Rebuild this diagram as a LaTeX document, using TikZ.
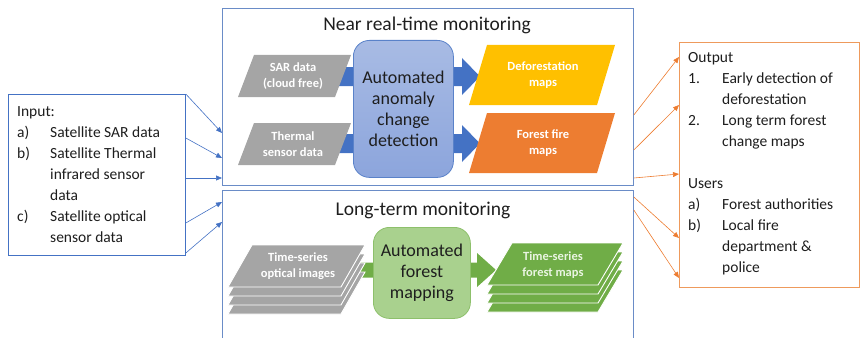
\documentclass[tikz,border=0pt]{standalone}
\usepackage{fontspec}
\setmainfont{Carlito}
\usetikzlibrary{arrows.meta,calc}
\definecolor{framebl}{HTML}{6A8CC7}
\definecolor{linebl}{HTML}{4472C4}
\definecolor{arrbl}{HTML}{4472C4}
\definecolor{boxtop}{HTML}{A8BBE4}
\definecolor{boxbot}{HTML}{8CA5DC}
\definecolor{boxbd}{HTML}{5A82C9}
\definecolor{grayp}{HTML}{A5A5A5}
\definecolor{gold}{HTML}{FFC000}
\definecolor{orng}{HTML}{ED7D31}
\definecolor{outbd}{HTML}{EE9A5C}
\definecolor{grn}{HTML}{70AD47}
\definecolor{grnl}{HTML}{A9D18E}
\definecolor{grnbd}{HTML}{8DC06B}
\definecolor{grntxt}{HTML}{EAF5E2}
\definecolor{txt}{HTML}{1E1E1E}
\begin{document}
\begin{tikzpicture}[x=1pt,y=-1pt,
  framebox/.style={draw=framebl,line width=0.8pt,anchor=north west,inner sep=0pt},
  listbox/.style={draw=#1,line width=0.8pt,anchor=north west,inner sep=0pt,fill=white},
  listtext/.style={anchor=north west,inner sep=0pt,text=txt,font=\fontsize{15.5}{21}\selectfont},
  titletext/.style={text=txt,font=\fontsize{19.5}{21}\selectfont,inner sep=0pt},
  proctext/.style={text=txt,font=\fontsize{18}{21}\selectfont,align=center,inner sep=0pt},
  paratext/.style={text=white,font=\fontsize{12.5}{16}\selectfont\bfseries,align=center,inner sep=0pt},
  bluecon/.style={draw=linebl,line width=0.6pt,-{Triangle[length=6pt,width=5pt]}},
  orcon/.style={draw=orng,line width=0.6pt,-{Triangle[length=6pt,width=5pt]}},
  layer/.style={draw=white,line width=0.9pt}
]
\useasboundingbox (0,0) rectangle (861,337);

% frames
\node[framebox,minimum width=411pt,minimum height=177pt] (nrt) at (222,8) {};
\node[framebox,minimum width=411pt,minimum height=152pt] (lt) at (222,190) {};
\node[titletext] (nrttitle) at (427,25) {Near real-time monitoring};
\node[titletext] (lttitle) at (423,210) {Long-term monitoring};

% input box
\node[listbox=linebl,minimum width=177pt,minimum height=161pt] (input) at (8,94) {};
\node[listtext] (inputtext) at (17,102) {\begin{tabular}[t]{@{}p{33pt}@{}l@{}}
\multicolumn{2}{@{}l@{}}{Input:}\\
a) & Satellite SAR data\\
b) & Satellite Thermal\\
   & infrared sensor\\
   & data\\
c) & Satellite optical\\
   & sensor data
\end{tabular}};

% output box
\node[listbox=outbd,minimum width=180pt,minimum height=245pt] (output) at (679,42) {};
\node[listtext] (outputtext) at (688,48) {\begin{tabular}[t]{@{}p{34pt}@{}l@{}}
\multicolumn{2}{@{}l@{}}{Output}\\
1. & Early detection of\\
   & deforestation\\
2. & Long term forest\\
   & change maps\\
   & \\
\multicolumn{2}{@{}l@{}}{Users}\\
a) & Forest authorities\\
b) & Local fire\\
   & department \&\\
   & police
\end{tabular}};

% blue wide arrows (behind)
\fill[arrbl] (334,67) -- (462,67) -- (462,58) -- (480,76.5) -- (462,95) -- (462,86) -- (334,86) -- cycle;
\fill[arrbl] (334,134) -- (462,134) -- (462,125) -- (480,143.5) -- (462,162) -- (462,153) -- (334,153) -- cycle;

% gray input parallelograms
\fill[grayp] (254,55) -- (351,55) -- (335,97) -- (238,97) -- cycle;
\node[paratext] (sar) at (293,76) {SAR data\\(cloud free)};
\fill[grayp] (254,123) -- (351,123) -- (335,165) -- (238,165) -- cycle;
\node[paratext] (thermal) at (293,144) {Thermal\\sensor data};

% central process
\node[draw=boxbd,line width=0.8pt,rounded corners=16pt,top color=boxtop,bottom color=boxbot,
  minimum width=100pt,minimum height=137pt,anchor=north west] (anom) at (353,40) {};
\node[proctext] (anomtext) at (anom.center) {Automated\\anomaly\\change\\detection};

% output parallelograms
\fill[gold] (487,45) -- (615,45) -- (597,105) -- (469,105) -- cycle;
\node[paratext] (defor) at (543,75) {Deforestation\\maps};
\fill[orng] (487,113) -- (615,113) -- (597,173) -- (469,173) -- cycle;
\node[paratext] (fire) at (543,143) {Forest fire\\maps};

% long-term: green arrow
\fill[grn] (345,262.5) -- (477,262.5) -- (477,253) -- (496,270) -- (477,287) -- (477,277.5) -- (345,277.5) -- cycle;

% gray stack
\foreach \k in {27,18,9,0}{
  \filldraw[layer,fill=grayp,shift={(0,\k)}] (252,245) -- (365,245) -- (341,287) -- (228,287) -- cycle;
}
\node[paratext] (optical) at (298,266) {Time-series\\optical images};

% green process
\node[draw=grnbd,line width=0.8pt,rounded corners=16pt,fill=grnl,
  minimum width=97pt,minimum height=91pt,anchor=north west] (fmap) at (373,227) {};
\node[proctext] (fmaptext) at (fmap.center) {Automated\\forest\\mapping};

% green stack
\foreach \k in {27,18,9,0}{
  \filldraw[layer,fill=grn,shift={(0,\k)}] (512,243) -- (623,243) -- (598,285) -- (487,285) -- cycle;
}
\node[paratext,text=grntxt] (fmaps) at (553,265) {Time-series\\forest maps};

% input connectors
\draw[bluecon] (input.north east) -- (nrt.west |- {(0,133)});
\draw[bluecon] (input.east |- {(0,138)}) -- (nrt.west |- {(0,158)});
\draw[bluecon] (input.east |- {(0,178)}) -- (nrt.west |- {(0,178)});
\draw[bluecon] (input.east |- {(0,223)}) -- (lt.west |- {(0,202)});
\draw[bluecon] (input.east |- {(0,253)}) -- (lt.west |- {(0,222)});

% output connectors
\draw[orcon] (nrt.east |- {(0,115)}) -- (output.west |- {(0,57)});
\draw[orcon] (nrt.east |- {(0,150)}) -- (output.west |- {(0,105)});
\draw[orcon] (nrt.east |- {(0,178)}) -- (output.west |- {(0,174)});
\draw[orcon] (lt.east |- {(0,197)}) -- (output.west |- {(0,238)});
\draw[orcon] (lt.east |- {(0,210)}) -- (output.west |- {(0,278)});
\end{tikzpicture}
\end{document}
